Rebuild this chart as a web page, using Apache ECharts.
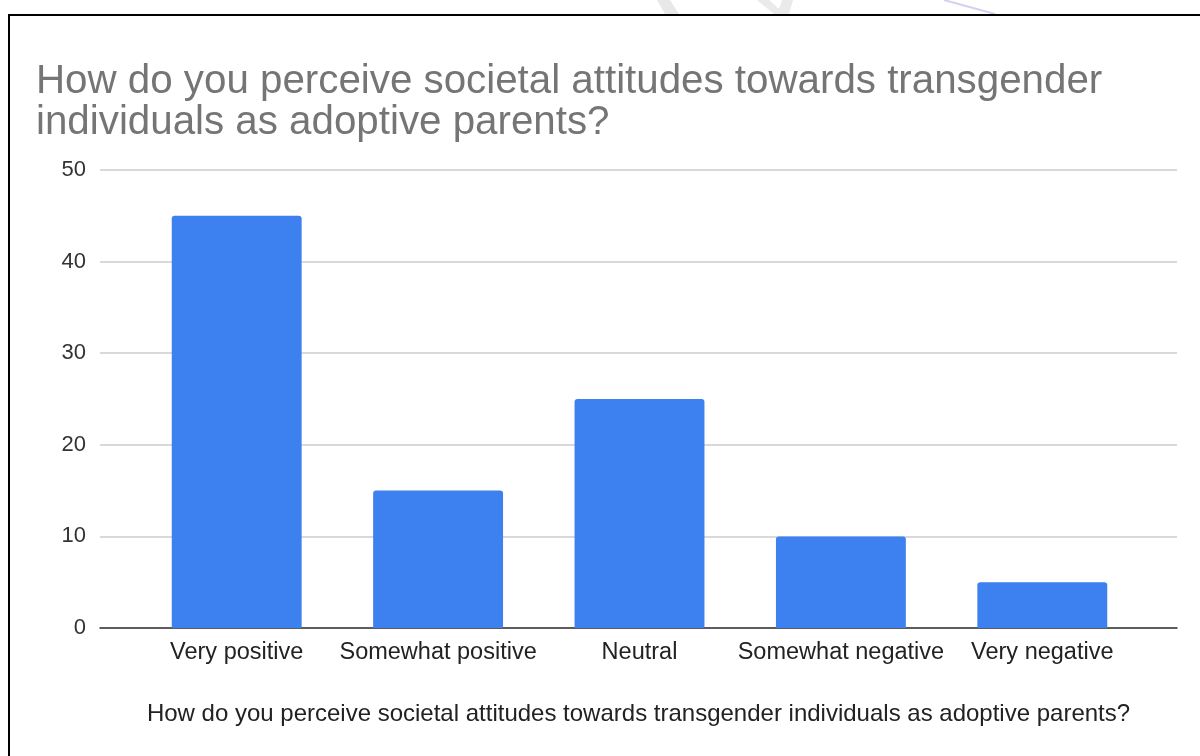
<!DOCTYPE html>
<html>
<head>
<meta charset="utf-8">
<script src="https://cdn.jsdelivr.net/npm/echarts@6/dist/echarts.min.js"></script>
<style>
  html, body { margin: 0; padding: 0; background: #fff; }
  #chart { width: 1200px; height: 756px; }
</style>
</head>
<body>
<div id="chart"></div>
<script>
const chartTitle = 'How do you perceive societal attitudes towards transgender\nindividuals as adoptive parents?';
const axisTitle = 'How do you perceive societal attitudes towards transgender individuals as adoptive parents?';
const categories = ['Very positive', 'Somewhat positive', 'Neutral', 'Somewhat negative', 'Very negative'];
const responses = [45, 15, 25, 10, 5];
const yTicks = [0, 10, 20, 30, 40, 50];

const FONT = '"Liberation Sans", Arial, sans-serif';
const yMin = yTicks[0];
const yMax = yTicks[yTicks.length - 1];
const yStep = yTicks[1] - yTicks[0];

const chart = echarts.init(document.getElementById('chart'), null, { renderer: 'canvas' });

chart.setOption({
  backgroundColor: '#ffffff',
  animation: false,
  title: {
    text: chartTitle,
    left: 31,
    top: 56,
    textStyle: {
      fontFamily: FONT,
      fontSize: 40.3,
      lineHeight: 41,
      fontWeight: 'normal',
      color: '#757575'
    }
  },
  graphic: [
    // page watermark fragments peeking above the frame
    {
      type: 'polygon',
      shape: { points: [[657, 0], [670, 0], [679, 14], [665, 14]] },
      style: { fill: '#e8e8e8' },
      silent: true
    },
    {
      type: 'polygon',
      shape: { points: [[757, 0], [769, 0], [779, 9], [782, 0], [793, 0], [789, 14], [774, 14]] },
      style: { fill: '#eaeaea' },
      silent: true
    },
    {
      type: 'line',
      shape: { x1: 944, y1: 0, x2: 995, y2: 14 },
      style: { stroke: '#d6d0f0', lineWidth: 2 },
      silent: true
    },
    // frame around the chart
    {
      type: 'rect',
      shape: { x: 9, y: 15, width: 1300, height: 900 },
      style: { fill: 'none', stroke: '#000000', lineWidth: 2 },
      silent: true
    }
  ],
  grid: [
    // plot frame: gridlines, value labels, baseline and axis title
    { left: 100, right: 23, top: 170, bottom: 128 },
    // bar band, inset from the gridline span
    { left: 136, right: 57, top: 170, bottom: 128 }
  ],
  xAxis: [
    {
      gridIndex: 0,
      type: 'value',
      min: 0,
      max: 1,
      name: axisTitle,
      nameLocation: 'middle',
      nameGap: 74,
      nameTextStyle: { fontFamily: FONT, fontSize: 24, color: '#222222' },
      axisLine: { show: true, onZero: true, lineStyle: { color: '#333333', width: 1.5 } },
      axisTick: { show: false },
      axisLabel: { show: false },
      splitLine: { show: false }
    },
    {
      gridIndex: 1,
      type: 'category',
      data: categories,
      axisLine: { show: false },
      axisTick: { show: false },
      axisLabel: {
        margin: 13,
        interval: 0,
        fontFamily: FONT,
        fontSize: 23.5,
        color: '#222222'
      }
    }
  ],
  yAxis: [
    {
      gridIndex: 0,
      type: 'value',
      min: yMin,
      max: yMax,
      interval: yStep,
      axisLine: { show: false },
      axisTick: { show: false },
      axisLabel: {
        margin: 14,
        fontFamily: FONT,
        fontSize: 22,
        color: '#333333'
      },
      splitLine: { show: true, lineStyle: { color: '#cccccc', width: 1.5 } }
    },
    {
      gridIndex: 1,
      type: 'value',
      min: yMin,
      max: yMax,
      interval: yStep,
      show: false,
      splitLine: { show: false }
    }
  ],
  series: [
    {
      type: 'bar',
      xAxisIndex: 1,
      yAxisIndex: 1,
      data: responses,
      barCategoryGap: '35.5%',
      itemStyle: { color: '#3d80f0', borderRadius: [3, 3, 0, 0] },
      z: 3
    }
  ]
});
</script>
</body>
</html>
